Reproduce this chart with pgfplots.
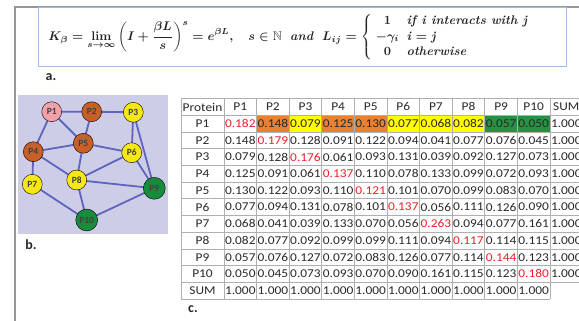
\documentclass[border=0pt]{standalone}
\usepackage[no-math]{fontspec}
\usepackage{amsmath,amssymb}
\usepackage{graphicx}
\usepackage{pgfplots}
\usepackage{pgfplotstable}
\pgfplotsset{compat=1.18}
\newfontfamily\tabfont[FakeStretch=1.12]{Carlito}
\newfontfamily\labfont{Carlito}
\definecolor{frameg}{RGB}{150,150,150}
\definecolor{boxblue}{RGB}{160,190,225}
\definecolor{lav}{RGB}{206,205,232}
\definecolor{edgec}{RGB}{95,100,190}
\definecolor{npink}{RGB}{242,160,170}
\definecolor{nbrown}{RGB}{200,95,40}
\definecolor{nyel}{RGB}{245,232,20}
\definecolor{ngreen}{RGB}{25,140,60}
\definecolor{corange}{RGB}{232,130,50}
\definecolor{cyel}{RGB}{255,255,0}
\definecolor{cgreen}{RGB}{40,145,65}
\definecolor{gridg}{RGB}{175,175,175}
\definecolor{txt}{RGB}{40,40,40}
\definecolor{tred}{RGB}{240,30,40}

\pgfplotstableread{
r P1 P2 P3 P4 P5 P6 P7 P8 P9 P10 SUM
1 0.182 0.148 0.079 0.125 0.130 0.077 0.068 0.082 0.057 0.050 1.000
2 0.148 0.179 0.128 0.091 0.122 0.094 0.041 0.077 0.076 0.045 1.000
3 0.079 0.128 0.176 0.061 0.093 0.131 0.039 0.092 0.127 0.073 1.000
4 0.125 0.091 0.061 0.137 0.110 0.078 0.133 0.099 0.072 0.093 1.000
5 0.130 0.122 0.093 0.110 0.121 0.101 0.070 0.099 0.083 0.070 1.000
6 0.077 0.094 0.131 0.078 0.101 0.137 0.056 0.111 0.126 0.090 1.000
7 0.068 0.041 0.039 0.133 0.070 0.056 0.263 0.094 0.077 0.161 1.000
8 0.082 0.077 0.092 0.099 0.099 0.111 0.094 0.117 0.114 0.115 1.000
9 0.057 0.076 0.127 0.072 0.083 0.126 0.077 0.114 0.144 0.123 1.000
10 0.050 0.045 0.073 0.093 0.070 0.090 0.161 0.115 0.123 0.180 1.000
11 1.000 1.000 1.000 1.000 1.000 1.000 1.000 1.000 1.000 1.000 nan
}\kmat

\pgfplotstableread{
r lab
0 Protein
1 P1
2 P2
3 P3
4 P4
5 P5
6 P6
7 P7
8 P8
9 P9
10 P10
11 SUM
}\rowlab

\pgfplotstableread{
c lab
1 P1
2 P2
3 P3
4 P4
5 P5
6 P6
7 P7
8 P8
9 P9
10 P10
11 SUM
}\collab

\pgfplotstableread{
x y lab
51.7 111.7 P1
91.7 111.7 P2
133.3 112.3 P3
33.3 151.7 P4
83.3 143.3 P5
131.7 152.7 P6
32.3 184.3 P7
76.7 180.0 P8
154.3 188.3 P9
86.7 220.0 P10
}\netnodes

\pgfplotsset{
  tabtxt/.style={draw=none, mark=none, nodes near coords, point meta=explicit symbolic,
    every node near coord/.append style={anchor=center, inner sep=0pt,
      font=\tabfont\fontsize{12}{12}\selectfont, text=txt}},
  tabred/.style={tabtxt, every node near coord/.append style={text=tred}},
}
\newcommand\tcol[4]{% #1 x center, #2 column, #3 skip from, #4 diag row
  \addplot[tabtxt, skip coords between index={#3}{#4}] table[x expr=#1, y expr={98.6+16.7*(\thisrow{r}+0.5)}, meta=#2]{\kmat};
  \addplot[tabred, restrict expr to domain={\thisrow{r}}{#4:#4}] table[x expr=#1, y expr={98.6+16.7*(\thisrow{r}+0.5)}, meta=#2]{\kmat};
}

\begin{document}
\begin{tikzpicture}
\begin{axis}[scale only axis, width=579bp, height=321bp,
  xmin=0, xmax=579, ymin=0, ymax=321, y dir=reverse,
  axis lines=none, clip=false]

% frame
\draw[frameg, line width=1.5bp] (axis cs:15,321) -- (axis cs:15,7) -- (axis cs:590,7);
% formula
\draw[boxblue, line width=1bp] (axis cs:38,8) rectangle (axis cs:566,66);
\node[text=black!85] at (axis cs:292,37) {\resizebox{487bp}{!}{\boldmath$\displaystyle K_\beta = \lim_{s\to\infty}\left(I+\frac{\beta L}{s}\right)^{s} = e^{\beta L},\quad s\in\mathbb{N}\ \ \textbf{\textit{and}}\ \ L_{ij}=\left\{\!\begin{array}{c@{\hspace{6pt}}l} 1 & \textbf{\textit{if i interacts with j}}\\ -\gamma_i & \textbf{\textit{i}} = \textbf{\textit{j}}\\ 0 & \textbf{\textit{otherwise}}\end{array}\right.$}};
\node[font=\labfont\bfseries\fontsize{14}{14}\selectfont, text=black!85] at (axis cs:51,77) {a.};

% network
\fill[lav] (axis cs:18,95) rectangle (axis cs:168,234);
\addplot[edgec, line width=1.8bp, line join=round, unbounded coords=jump, mark=none] coordinates {
 (33.3,151.7)(51.7,111.7)(91.7,111.7)(133.3,112.3)(154.3,188.3)(86.7,220)(32.3,184.3)(33.3,151.7)(83.3,143.3)(131.7,152.7)(154.3,188.3)(76.7,180)(86.7,220)
 (nan,nan)
 (51.7,111.7)(83.3,143.3)(91.7,111.7)
 (nan,nan)
 (133.3,112.3)(131.7,152.7)(76.7,180)(33.3,151.7)
 (nan,nan)
 (83.3,143.3)(76.7,180)
};
\addplot[only marks, mark=*, mark size=10pt, mark options={draw=none, fill=npink}] coordinates {(51.7,111.7)};
\addplot[only marks, mark=*, mark size=10pt, mark options={draw=none, fill=nbrown}] coordinates {(91.7,111.7)(33.3,151.7)(83.3,143.3)};
\addplot[only marks, mark=*, mark size=10pt, mark options={draw=none, fill=nyel}] coordinates {(133.3,112.3)(131.7,152.7)(32.3,184.3)(76.7,180)};
\addplot[only marks, mark=*, mark size=11pt, mark options={draw=none, fill=ngreen}] coordinates {(154.3,188.3)(86.7,220)};
\addplot[draw=none, mark=none, nodes near coords, point meta=explicit symbolic,
  every node near coord/.append style={anchor=center, inner sep=0pt,
    font=\labfont\bfseries\fontsize{9.5}{9.5}\selectfont, text=black!75}]
  table[x=x, y=y, meta=lab]{\netnodes};
\node[font=\labfont\bfseries\fontsize{14}{14}\selectfont, text=black!85] at (axis cs:31,245) {b.};

% table cell fills
\addplot[fill=corange, draw=none] coordinates {(256.6,115.3)(289.2,115.3)(289.2,132)(256.6,132)};
\addplot[fill=cyel, draw=none] coordinates {(289.2,115.3)(321.8,115.3)(321.8,132)(289.2,132)};
\addplot[fill=corange, draw=none] coordinates {(321.8,115.3)(387,115.3)(387,132)(321.8,132)};
\addplot[fill=cyel, draw=none] coordinates {(387,115.3)(484.8,115.3)(484.8,132)(387,132)};
\addplot[fill=cgreen, draw=none] coordinates {(484.8,115.3)(550,115.3)(550,132)(484.8,132)};

% grid
\pgfplotsinvokeforeach{98.6,115.3,132.0,148.7,165.4,182.1,198.8,215.5,232.2,248.9,265.6,282.3}{
  \draw[gridg, line width=0.8bp] (axis cs:181,#1) -- (axis cs:595,#1);
}
\draw[gridg, line width=0.8bp] (axis cs:181,299) -- (axis cs:550,299);
\pgfplotsinvokeforeach{181,224,256.6,289.2,321.8,354.4,387,419.6,452.2,484.8,517.4,550}{
  \draw[gridg, line width=0.8bp] (axis cs:#1,98.6) -- (axis cs:#1,299);
}
\draw[gridg, line width=0.8bp] (axis cs:582.6,98.6) -- (axis cs:582.6,282.3);

% table text
\addplot[tabtxt] table[x expr=202.5, y expr={98.6+16.7*(\thisrow{r}+0.5)}, meta=lab]{\rowlab};
\addplot[tabtxt] table[x expr={224+32.6*(\thisrow{c}-0.5)}, y expr=106.95, meta=lab]{\collab};
\tcol{240.3}{P1}{0}{1}
\tcol{272.9}{P2}{1}{2}
\tcol{305.5}{P3}{2}{3}
\tcol{338.1}{P4}{3}{4}
\tcol{370.7}{P5}{4}{5}
\tcol{403.3}{P6}{5}{6}
\tcol{435.9}{P7}{6}{7}
\tcol{468.5}{P8}{7}{8}
\tcol{501.1}{P9}{8}{9}
\tcol{533.7}{P10}{9}{10}
\addplot[tabtxt, skip coords between index={10}{11}] table[x expr=566.3, y expr={98.6+16.7*(\thisrow{r}+0.5)}, meta=SUM]{\kmat};
\node[font=\labfont\bfseries\fontsize{14}{14}\selectfont, text=black!85] at (axis cs:193,309) {c.};
\end{axis}
\pgfresetboundingbox
\path[use as bounding box] (current axis.south west) rectangle (current axis.north east);
\end{tikzpicture}
\end{document}
